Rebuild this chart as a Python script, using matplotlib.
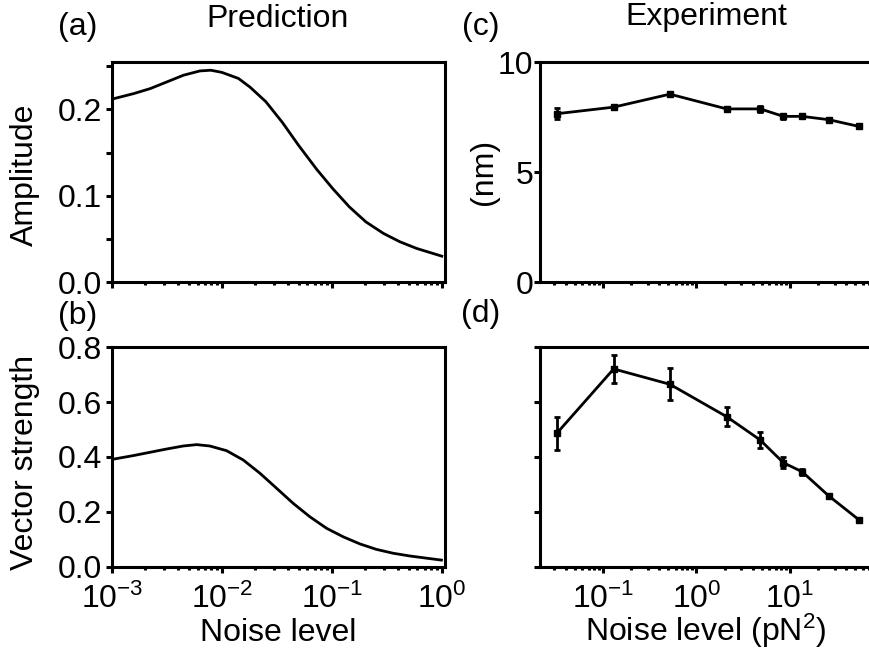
import matplotlib
matplotlib.use('Agg')
import matplotlib.pyplot as plt
import numpy as np
from matplotlib.ticker import FixedLocator, LogLocator, NullFormatter

plt.rcParams['font.family'] = ['Liberation Sans', 'DejaVu Sans']
plt.rcParams['mathtext.default'] = 'regular'
plt.rcParams['axes.unicode_minus'] = False

# Prediction curves (log10 noise level, value)
amp_logx = [-3.0, -2.8, -2.65, -2.5, -2.35, -2.2, -2.1, -2.0, -1.85, -1.745, -1.6,
            -1.45, -1.3, -1.14, -0.99, -0.84, -0.69, -0.53, -0.38, -0.23, 0.0]
amp_pred = [0.212, 0.2185, 0.2243, 0.232, 0.2397, 0.2447, 0.2455, 0.243, 0.236, 0.226, 0.209,
            0.185, 0.158, 0.131, 0.108, 0.087, 0.0697, 0.0563, 0.0466, 0.039, 0.030]

vs_logx = [-2.988, -2.806, -2.655, -2.503, -2.352, -2.23, -2.11, -1.958, -1.806, -1.655, -1.503,
           -1.352, -1.2, -1.048, -0.897, -0.745, -0.594, -0.443, -0.291, -0.139, -0.003]
vs_pred = [0.392, 0.405, 0.417, 0.429, 0.440, 0.445, 0.440, 0.423, 0.389, 0.341, 0.286,
           0.231, 0.182, 0.140, 0.109, 0.083, 0.063, 0.049, 0.039, 0.031, 0.024]

# Experiment
noise_exp = [0.032, 0.13, 0.52, 2.1, 4.8, 8.5, 13.5, 26, 55]
amp_exp = [7.65, 7.95, 8.54, 7.87, 7.87, 7.53, 7.53, 7.38, 7.07]
amp_err = [0.24, 0.08, 0.08, 0.08, 0.12, 0.12, 0.06, 0.06, 0.05]
vs_exp = [0.486, 0.721, 0.665, 0.547, 0.462, 0.379, 0.346, 0.258, 0.170]
vs_err = [0.061, 0.052, 0.058, 0.035, 0.029, 0.021, 0.010, 0.008, 0.004]

fs = 23
lw_sp = 2.2

fig = plt.figure(figsize=(8.7, 6.53), dpi=100)
ax_a = fig.add_axes([0.1287, 0.5681, 0.3828, 0.3369])
ax_b = fig.add_axes([0.1287, 0.1322, 0.3828, 0.3360])
ax_c = fig.add_axes([0.6207, 0.5681, 0.3948, 0.3369])
ax_d = fig.add_axes([0.6207, 0.1322, 0.3948, 0.3360])

ax_a.plot(10 ** np.array(amp_logx), amp_pred, color='black', lw=2, solid_joinstyle='round')
ax_b.plot(10 ** np.array(vs_logx), vs_pred, color='black', lw=2, solid_joinstyle='round')
ax_c.errorbar(noise_exp, amp_exp, yerr=amp_err, color='black', lw=2, marker='s', ms=4,
              capsize=2.5, capthick=2, elinewidth=2)
ax_d.errorbar(noise_exp, vs_exp, yerr=vs_err, color='black', lw=2, marker='s', ms=4,
              capsize=2.5, capthick=2, elinewidth=2)

for ax in [ax_a, ax_b, ax_c, ax_d]:
    ax.set_xscale('log')
    for s in ax.spines.values():
        s.set_linewidth(lw_sp)
    ax.xaxis.set_major_locator(LogLocator(base=10, numticks=20))
    ax.xaxis.set_minor_locator(LogLocator(base=10, subs=np.arange(2, 10), numticks=20))
    ax.xaxis.set_minor_formatter(NullFormatter())
    ax.tick_params(which='major', direction='out', length=4, width=lw_sp, labelsize=fs, pad=3)
    ax.tick_params(which='minor', direction='out', length=2.5, width=lw_sp)
    ax.tick_params(axis='x', which='major', pad=8)
    ax.tick_params(axis='y', which='minor', left=False)

for ax in [ax_a, ax_b]:
    ax.set_xlim(1e-3, 1.07)
for ax in [ax_c, ax_d]:
    ax.set_xlim(0.0212, 100)
    ax.xaxis.set_major_locator(FixedLocator([0.1, 1, 10]))

ax_a.set_ylim(0, 0.255)
ax_a.yaxis.set_major_locator(FixedLocator([0.0, 0.1, 0.2]))
ax_a.set_yticklabels(['0.0', '0.1', '0.2'])
ax_a.yaxis.set_minor_locator(FixedLocator([0.05, 0.15, 0.25]))
ax_a.tick_params(axis='y', which='minor', left=True, length=4)
ax_a.tick_params(axis='x', labelbottom=False)

ax_b.set_ylim(0, 0.8)
ax_b.yaxis.set_major_locator(FixedLocator([0.0, 0.2, 0.4, 0.6, 0.8]))
ax_b.set_yticklabels(['0.0', '0.2', '0.4', '0.6', '0.8'])

ax_c.set_ylim(0, 10)
ax_c.yaxis.set_major_locator(FixedLocator([0, 5, 10]))
ax_c.tick_params(axis='y', pad=1)
ax_c.tick_params(axis='x', labelbottom=False)

ax_d.set_ylim(0, 0.8)
ax_d.yaxis.set_major_locator(FixedLocator([0.0, 0.2, 0.4, 0.6, 0.8]))
ax_d.tick_params(axis='y', labelleft=False)

# labels
fig.text(278 / 870, 1 - 27 / 653, 'Prediction', fontsize=fs, ha='center', va='baseline')
fig.text(706 / 870, 1 - 25 / 653, 'Experiment', fontsize=fs, ha='center', va='baseline')
fig.text(78 / 870, 1 - 35 / 653, '(a)', fontsize=fs, ha='center', va='baseline')
fig.text(78 / 870, 1 - 324 / 653, '(b)', fontsize=fs, ha='center', va='baseline')
fig.text(481 / 870, 1 - 35 / 653, '(c)', fontsize=fs, ha='center', va='baseline')
fig.text(481 / 870, 1 - 322 / 653, '(d)', fontsize=fs, ha='center', va='baseline')
fig.text(25 / 870, 1 - 175 / 653, 'Amplitude', fontsize=fs, rotation=90, ha='center', va='center')
fig.text(25 / 870, 1 - 462 / 653, 'Vector strength', fontsize=fs, rotation=90, ha='center', va='center')
fig.text(484 / 870, 1 - 172 / 653, '(nm)', fontsize=fs, rotation=90, ha='center', va='center')
fig.text(278 / 870, 1 - 641 / 653, 'Noise level', fontsize=fs, ha='center', va='baseline')
fig.text(706 / 870, 1 - 641 / 653, 'Noise level (pN$^{2}$)', fontsize=fs, ha='center', va='baseline')

fig.savefig('out.png', dpi=100)
